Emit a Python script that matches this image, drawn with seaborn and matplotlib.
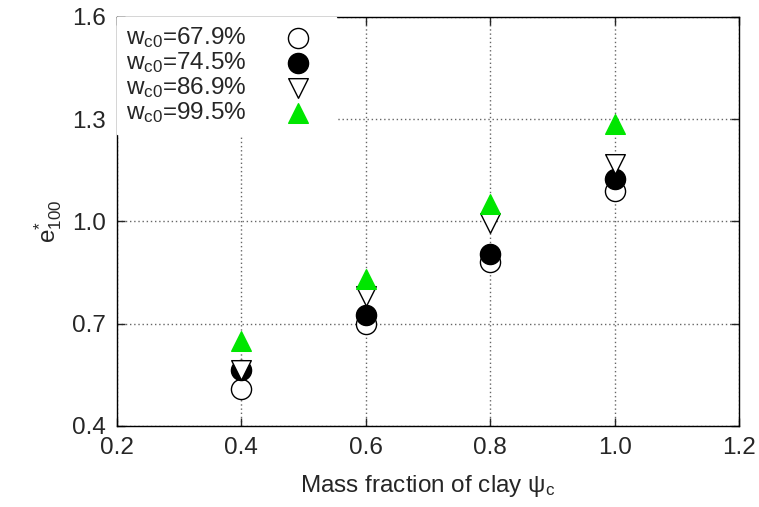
import matplotlib
matplotlib.use("Agg")
import matplotlib.pyplot as plt
import seaborn as sns
import pandas as pd

psi = [0.4, 0.6, 0.8, 1.0]
w679 = [0.51, 0.70, 0.88, 1.09]
w745 = [0.565, 0.725, 0.905, 1.125]
w869 = [0.565, 0.78, 0.995, 1.17]
w995 = [0.65, 0.83, 1.05, 1.285]
labels = [r"w$_{\mathrm{c0}}$=67.9%", r"w$_{\mathrm{c0}}$=74.5%",
          r"w$_{\mathrm{c0}}$=86.9%", r"w$_{\mathrm{c0}}$=99.5%"]
xticks = [0.2, 0.4, 0.6, 0.8, 1.0, 1.2]
yticks = [0.4, 0.7, 1.0, 1.3, 1.6]

sns.set_style("ticks")
plt.rcParams["font.family"] = ["Liberation Sans", "DejaVu Sans"]
plt.rcParams["mathtext.fontset"] = "custom"
plt.rcParams["mathtext.rm"] = "Liberation Sans"
plt.rcParams["mathtext.it"] = "Liberation Sans"
plt.rcParams["mathtext.bf"] = "Liberation Sans:bold"

FS = 17.5

fig = plt.figure(figsize=(7.59, 5.07), dpi=100)
ax = fig.add_axes([117/759, 1-426/507, (739-117)/759, (426-17)/507])

series = [w679, w745, w869, w995]
styles = [
    dict(marker="o", facecolor="white", edgecolor="black", s=210),
    dict(marker="o", facecolor="black", edgecolor="black", s=210),
    dict(marker="v", facecolor="white", edgecolor="black", s=200),
    dict(marker="^", facecolor="#00e600", edgecolor="#00e600", s=200),
]
for vals, lab, st in zip(series, labels, styles):
    df = pd.DataFrame({"psi": psi, "e": vals})
    sns.scatterplot(data=df, x="psi", y="e", ax=ax, marker=st["marker"],
                    color=st["facecolor"], edgecolor=st["edgecolor"],
                    s=st["s"], linewidth=1.0, label=lab, zorder=3)

ax.set_xlim(0.2, 1.2)
ax.set_ylim(0.4, 1.6)
ax.set_xticks(xticks)
ax.set_xticklabels([f"{t:.1f}" for t in xticks])
ax.set_yticks(yticks)
ax.set_yticklabels([f"{t:.1f}" for t in yticks])
ax.tick_params(direction="in", length=6, width=1, labelsize=FS,
               top=True, right=True, pad=8)
ax.grid(True, linestyle=(0, (1, 2)), color="0.4", linewidth=1)
for sp in ax.spines.values():
    sp.set_visible(True)
    sp.set_linewidth(1)
    sp.set_color("black")

ax.set_xlabel(r"Mass fraction of clay $\mathrm{\psi}_{\mathrm{c}}$", fontsize=FS, labelpad=10)
ax.set_ylabel(r"e$^{*}_{100}$", fontsize=FS, labelpad=6)

leg = ax.legend(loc="upper left", markerfirst=False, frameon=True,
                fancybox=False, framealpha=1, edgecolor="white",
                facecolor="white", fontsize=FS, labelspacing=0.0,
                handletextpad=0.95, handlelength=2.4, borderaxespad=0.0,
                borderpad=0.35)
leg.set_zorder(5)

fig.savefig("out.png", dpi=100)
